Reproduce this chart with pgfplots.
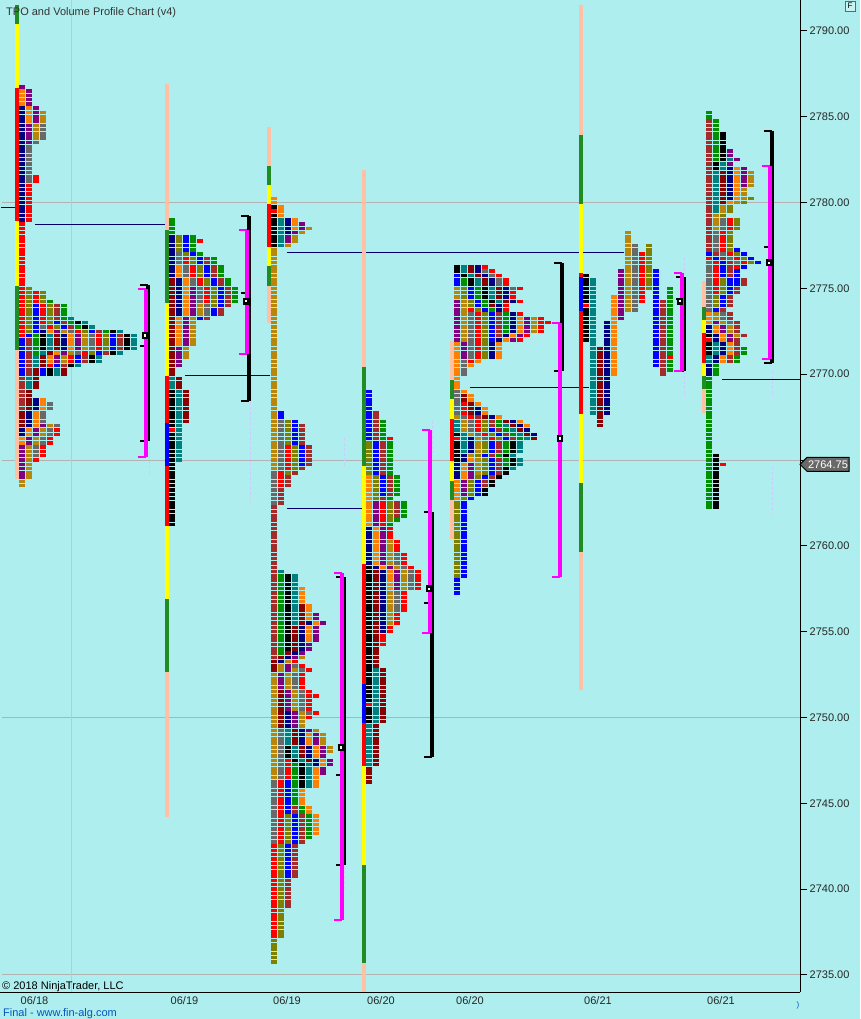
\documentclass[border=0pt]{standalone}
\usepackage{fontspec}
\setmainfont{Liberation Sans}
\usepackage{pgfplots}
\pgfplotsset{compat=1.18}

\definecolor{bg}{HTML}{AFEEEE}
\definecolor{cG}{HTML}{009000}
\definecolor{cL}{HTML}{808000}
\definecolor{cR}{HTML}{FF0000}
\definecolor{cB}{HTML}{0000FF}
\definecolor{cW}{HTML}{A52A2A}
\definecolor{cT}{HTML}{008080}
\definecolor{cK}{HTML}{000000}
\definecolor{cD}{HTML}{8B0000}
\definecolor{cN}{HTML}{000080}
\definecolor{cO}{HTML}{FF8000}
\definecolor{cP}{HTML}{800080}
\definecolor{cY}{HTML}{B8860B}
\definecolor{cS}{HTML}{696969}
\definecolor{peach}{HTML}{FFC0A3}
\definecolor{fgreen}{HTML}{228B22}
\definecolor{yell}{HTML}{FFFF00}
\definecolor{vamag}{HTML}{FF00FF}

\pgfdeclareplotmark{tpo}{\pgfpathrectangle{\pgfpoint{-3pt}{-1.75pt}}{\pgfpoint{6pt}{3.5pt}}\pgfusepathqfill}

% one list of block positions per colour
\def\LG{}\def\LL{}\def\LR{}\def\LB{}\def\LW{}\def\LT{}\def\LK{}\def\LD{}\def\LN{}\def\LO{}\def\LP{}\def\LY{}\def\LS{}
\newcount\rr \newcount\cc \newcount\profno

% \prof{left x}{colour/low/high, ...}: periods in time order, each row fills to the right
\newcommand\prof[2]{%
  \global\advance\profno by 1
  \foreach \cl/\pl/\ph in {#2}{%
    \pgfmathtruncatemacro\a{(\pl-2730)*4+0.5}%
    \pgfmathtruncatemacro\b{(\ph-2730)*4+0.5}%
    \rr=\a
    \loop\ifnum\rr>\b\else
      \ifcsname C\the\profno.\the\rr\endcsname
        \cc=\csname C\the\profno.\the\rr\endcsname\relax
      \else \cc=0 \fi
      \expandafter\xdef\csname L\cl\endcsname{\csname L\cl\endcsname
        (\the\numexpr#1+3+7*\cc\relax,\fpeval{2730+\the\rr/4})}%
      \expandafter\xdef\csname C\the\profno.\the\rr\endcsname{\the\numexpr\cc+1\relax}%
      \advance\rr by 1
    \repeat
  }}

\prof{19}{N/2779/2785.5,O/2784.75/2786.5,P/2783.5/2786.75,Y/2783.75/2785.25,S/2781.25/2784.5,
R/2772.25/2781.5,L/2772.5/2775,B/2770/2774,W/2768/2772,G/2771.25/2772.25,K/2771.5/2772.25,
T/2770.5/2772.25,D/2770/2772.25,N/2771.5/2772.5,O/2770.75/2772.5,P/2770.75/2772.5,Y/2770.75/2772.5,
S/2771.25/2772.75,R/2770.5/2774.75,L/2771.25/2774.75,B/2770/2773,W/2770.5/2774,G/2772.5/2774.25,
K/2770/2773,T/2769.25/2773.25,D/2767/2770.25,N/2766.5/2768.5,O/2766/2768.5,P/2764/2767,
Y/2763.5/2767,S/2765.25/2768.25,R/2765/2766.75}

\prof{169}{D/2770/2775.5,N/2773.5/2778,O/2771.75/2776.25,P/2770.5/2775,Y/2771/2774,S/2773.5/2777,
R/2774.25/2776.75,L/2774/2778,B/2773.25/2778,W/2773.25/2776.75,G/2774.25/2779,R/2777.75/2777.75,
R/2766.75/2766.75,K/2767/2769,K/2761.25/2766.5,T/2765/2769.75,D/2767.25/2769.75}

\prof{271}{R/2779.5/2779.5,K/2779.75/2779.75,K/2777.5/2779.25,T/2777.5/2779,N/2778.25/2779,
O/2778.5/2780.25,P/2777.75/2778.75,Y/2764.5/2778.5,S/2762.5/2767.25,R/2763.5/2765.75,
L/2764.25/2767.25,B/2764.75/2767.75,W/2753.5/2767,G/2753.75/2758.25,K/2754/2758.25,
T/2755.5/2758.5,D/2752.75/2756.5,N/2753.25/2755.5,O/2754.5/2757.5,P/2753.5/2756,
Y/2746.5/2753.5,S/2742.75/2749.25,R/2737.25/2747.5,L/2735.75/2744.25,B/2740.75/2746.25,
W/2739/2744.75,G/2743/2747.25,K/2746/2748.25,T/2746/2749.25,D/2747.5/2751.5,N/2747.25/2750.25,
O/2743.25/2749,P/2746.75/2753,Y/2748/2752.75,S/2750.25/2753,R/2750/2753.25,R/2751.25/2751.25}

\prof{366}{R/2750.75/2750.75,K/2751/2758.75,K/2749.75/2750.5,T/2747.25/2752.75,D/2746.25/2758.5,
N/2755/2761,O/2757.5/2764,P/2757.5/2762.5,Y/2755.5/2760.25,S/2756.25/2759.5,R/2754.25/2762.5,
L/2761.5/2766,B/2763/2769,W/2761.75/2767.75,G/2761.25/2767.25,R/2766.25/2766.25}

\prof{454}{R/2766.25/2766.25,K/2766.5/2766.5,K/2765/2766,T/2765.5/2767.25,N/2764/2766.25,
O/2762.75/2765,O/2769.25/2771.75,P/2763/2764.75,P/2771/2774.25,Y/2764.25/2767.5,Y/2772/2775,
S/2766.25/2769,S/2770/2773.5,R/2766.25/2768.25,R/2770.75/2773.75,L/2758.25/2767.25,L/2771/2775,
B/2757.25/2766.75,B/2772/2775.75,W/2763.5/2767.5,W/2772.25/2773.5,G/2764.75/2767.25,G/2772.5/2775.5,
K/2763/2766,K/2774.25/2776.25,T/2764.5/2767,T/2774.25/2776.25,D/2766.25/2768.75,D/2774/2776.25,
N/2766.5/2768,N/2771/2776.25,O/2767/2769,O/2770.5/2773.25,P/2772/2773.25,Y/2772.5/2773.25,
S/2775/2776,R/2772/2776.25,R/2773/2773}

% this session has one column for each period
\prof{583}{K/2772/2775.75}\prof{590}{T/2767.75/2775.5}\prof{597}{D/2767/2771.5}
\prof{604}{N/2767.75/2773}\prof{611}{O/2770/2774.5}\prof{618}{P/2773.25/2776}
\prof{625}{Y/2773.75/2778.25}\prof{632}{S/2773.75/2777.5}\prof{639}{R/2774.25/2777}
\prof{646}{L/2775/2777.5}\prof{653}{B/2770.5/2776}\prof{660}{W/2770/2774.25}
\prof{667}{G/2770.25/2775}\prof{583}{R/2774/2774}\prof{667}{R/2771/2771}

\prof{706}{R/2772/2772,K/2772.25/2772.25,K/2771.25/2771.75,T/2770.75/2771.75,N/2770/2772.75,
O/2770.75/2773.5,P/2772/2773,Y/2772.25/2773.5,S/2773/2776.5,R/2774.75/2776.75,L/2774/2775.5,
B/2773.75/2777,W/2775.75/2784.75,W/2770.75/2774,G/2762.25/2771.5,G/2782.5/2785.25,
K/2762.25/2765.25,K/2782/2784,T/2779.5/2782.5,D/2780/2781.75,N/2780.25/2782,O/2780/2782,
P/2781/2783,Y/2778.5/2781.75,S/2776.5/2779,R/2776.25/2779,L/2776.5/2780.25,B/2775.25/2777.25,
W/2774.25/2775.5,R/2764.75/2764.75}

\newcommand\drawcol[1]{\edef\tmp{\noexpand\addplot[only marks,mark=tpo,color=c#1]
  coordinates {\csname L#1\endcsname};}\tmp}
\newcommand\seg[4]{\addplot[line width=4pt,color=#1,line cap=butt] coordinates {(#2,#3)(#2,#4)};}
% value area bracket: colour, bar x, hook x, top, bottom
\newcommand\brk[5]{%
  \addplot[line width=4pt,color=#1,line cap=butt] coordinates {(#2,#4)(#2,#5)};
  \addplot[line width=2pt,color=#1,line cap=butt] coordinates {(#3,#4)(#2,#4)};
  \addplot[line width=2pt,color=#1,line cap=butt] coordinates {(#3,#5)(#2,#5)};}
\newcommand\stub[3]{\addplot[line width=2pt,color=black,line cap=butt] coordinates {(#1,#3)(#2,#3)};}
\newcommand\naked[3]{\addplot[line width=1pt,color=cN!85!black] coordinates {(#1,#3)(#2,#3)};}

\begin{document}
\begin{tikzpicture}
\fill[bg] (0pt,-27pt) rectangle (860pt,992pt);
\useasboundingbox (0pt,-27pt) rectangle (860pt,992pt);
\begin{axis}[
  scale only axis, width=800pt, height=992pt,
  xmin=0, xmax=800, ymin=2734, ymax=2791.806,
  axis x line*=bottom, axis y line*=right,
  clip=false,
  axis line style={line width=1pt,-},
  xtick={34.5,184.5,287,381,470,598,721},
  xticklabels={06/18,06/19,06/19,06/20,06/20,06/21,06/21},
  ytick={2735,2740,2745,2750,2755,2760,2765,2770,2775,2780,2785,2790},
  yticklabels={2735.00,2740.00,2745.00,2750.00,2755.00,2760.00,,2770.00,2775.00,2780.00,2785.00,2790.00},
  tick align=outside,
  x tick style={draw=none},
  y tick style={black,line width=1pt},
  major tick length=7pt,
  tick label style={font=\fontsize{11}{13}\selectfont,text=black!85},
  x tick label style={inner sep=1pt,yshift=4pt},
  y tick label style={inner sep=1.5pt,xshift=1pt},
]
% grid lines
\addplot[line width=1pt,color=black!30] coordinates {(2,2780)(800,2780)};
\addplot[line width=1pt,color=black!30] coordinates {(2,2765)(800,2765)};
\addplot[line width=1pt,color=black!30] coordinates {(2,2750)(800,2750)};
\addplot[line width=1pt,color=black!30] coordinates {(2,2735)(800,2735)};
\addplot[line width=1pt,color=black!22] coordinates {(71,2734)(71,2791.8)};

% pale dashes near the brackets
\addplot[line width=1pt,color=blue!20,dash pattern=on 3pt off 2pt,unbounded coords=jump] coordinates {
  (149,2766.1)(149,2764.1) (nan,nan) (344.5,2746.6)(344.5,2739.9) (nan,nan) (344.5,2766.3)(344.5,2764.6)
  (nan,nan) (432.5,2767.3)(432.5,2765.4) (nan,nan) (684,2776.8)(684,2775.9) (nan,nan) (684,2770.2)(684,2768.7)
  (nan,nan) (772,2770.2)(772,2768.7) (nan,nan) (772,2764.6)(772,2761.9) (nan,nan) (250,2768.4)(250,2762.5)};

% naked point of control lines
\naked{1}{18}{2779.74}\naked{35}{168}{2778.72}\naked{185}{270}{2769.95}\naked{287}{624}{2777.1}
\naked{287}{366}{2762.2}\naked{470}{589}{2769.25}\naked{722}{800}{2769.7}

% session range bars
\seg{fgreen}{17}{2791.52}{2790.41}\seg{yell}{17}{2790.41}{2786.68}\seg{cR}{17}{2786.68}{2778.93}
\seg{yell}{17}{2778.93}{2775.14}\seg{fgreen}{17}{2775.14}{2771.41}\seg{peach}{17}{2771.41}{2763.89}

\seg{peach}{167}{2786.91}{2778.40}\seg{fgreen}{167}{2778.40}{2774.15}\seg{yell}{167}{2774.15}{2769.90}
\seg{cR}{167}{2769.90}{2767.16}\seg{cB}{167}{2767.16}{2764.65}\seg{cR}{167}{2764.65}{2761.15}
\seg{yell}{167}{2761.15}{2756.90}\seg{fgreen}{167}{2756.90}{2752.65}\seg{peach}{167}{2752.65}{2744.20}

\seg{peach}{269}{2784.41}{2782.13}\seg{fgreen}{269}{2782.13}{2781.03}\seg{yell}{269}{2781.03}{2779.92}
\seg{cR}{269}{2779.92}{2777.41}\seg{yell}{269}{2777.41}{2776.31}\seg{fgreen}{269}{2776.31}{2775.14}
\seg{peach}{269}{2775.14}{2772.98}

\seg{peach}{364}{2781.90}{2770.42}\seg{fgreen}{364}{2770.42}{2764.65}\seg{yell}{364}{2764.65}{2758.94}
\seg{cR}{364}{2758.94}{2751.95}\seg{cB}{364}{2751.95}{2749.67}\seg{cR}{364}{2749.67}{2747.17}
\seg{yell}{364}{2747.17}{2741.40}\seg{fgreen}{364}{2741.40}{2735.69}\seg{peach}{364}{2735.69}{2734}

\seg{peach}{452}{2771.93}{2769.66}\seg{fgreen}{452}{2769.66}{2768.55}\seg{yell}{452}{2768.55}{2767.39}
\seg{cR}{452}{2767.39}{2764.94}\seg{yell}{452}{2764.94}{2763.78}\seg{fgreen}{452}{2763.78}{2762.67}
\seg{peach}{452}{2762.67}{2760.40}

\seg{peach}{581}{2791.52}{2783.94}\seg{fgreen}{581}{2783.94}{2779.92}\seg{yell}{581}{2779.92}{2775.90}
\seg{cR}{581}{2775.90}{2775.66}\seg{cB}{581}{2775.66}{2773.68}\seg{cR}{581}{2773.68}{2767.68}
\seg{yell}{581}{2767.68}{2763.66}\seg{fgreen}{581}{2763.66}{2759.64}\seg{peach}{581}{2759.64}{2751.60}

\seg{peach}{704}{2775.43}{2773.92}\seg{fgreen}{704}{2773.92}{2773.16}\seg{yell}{704}{2773.16}{2772.40}
\seg{cR}{704}{2772.40}{2770.65}\seg{yell}{704}{2770.65}{2769.90}\seg{fgreen}{704}{2769.90}{2769.14}
\seg{peach}{704}{2769.14}{2767.74}

% profile blocks
\drawcol{G}\drawcol{L}\drawcol{B}\drawcol{W}\drawcol{T}\drawcol{K}\drawcol{D}
\drawcol{N}\drawcol{O}\drawcol{P}\drawcol{Y}\drawcol{S}\drawcol{R}

% black then magenta brackets
\brk{black}{148}{140}{2775.20}{2766.11}\brk{black}{249}{241}{2779.22}{2768.44}
\brk{black}{344}{336}{2758.18}{2741.40}\brk{black}{432}{424}{2761.97}{2747.69}
\brk{black}{562}{554}{2776.48}{2770.19}\brk{black}{684}{676}{2775.66}{2770.19}
\brk{black}{772}{764}{2784.17}{2770.65}
\stub{140}{146}{2771.64}\stub{241}{247}{2774.73}\stub{336}{342}{2746.64}\stub{424}{430}{2756.67}
\stub{676}{682}{2774.38}\stub{764}{770}{2777.41}
\brk{vamag}{146}{138}{2774.97}{2765.18}\brk{vamag}{247}{239}{2778.40}{2771.18}
\brk{vamag}{342}{334}{2758.42}{2738.19}\brk{vamag}{430}{422}{2766.75}{2754.92}
\brk{vamag}{560}{552}{2772.98}{2758.18}\brk{vamag}{682}{674}{2775.90}{2770.19}
\brk{vamag}{770}{762}{2782.13}{2770.89}

% point of control markers
\addplot[only marks,mark=square*,mark size=2.2pt,mark options={fill=white,draw=black,line width=2.2pt}]
  coordinates {(145,2772.25)(246,2774.25)(341,2748.25)(429,2757.5)(560,2766.25)(680,2774.25)(769,2776.5)};

% last price tag
\draw[fill=cS,draw=black,line width=1pt] (axis cs:800,2764.75) -- ++(7pt,7pt) -- ++(42pt,0pt) -- ++(0pt,-14pt) -- ++(-42pt,0pt) -- cycle;
\node[anchor=center,text=white,font=\fontsize{11}{13}\selectfont,inner sep=0pt] at ([xshift=28pt]axis cs:800,2764.75) {2764.75};

\node[anchor=base west,inner sep=0pt,font=\fontsize{11}{13}\selectfont,text=black!80] at ([yshift=-16pt]axis cs:6,2791.806) {TPO and Volume Profile Chart (v4)};
\node[anchor=base west,inner sep=0pt,font=\fontsize{11}{13}\selectfont,text=black] at ([yshift=2pt]axis cs:2,2734) {© 2018 NinjaTrader, LLC};
\node[anchor=base west,inner sep=0pt,font=\fontsize{11}{13}\selectfont,text=blue!55!cyan!75!black] at ([yshift=-24pt]axis cs:3,2734) {Final - www.fin-alg.com};
\node[anchor=center,inner sep=0pt,font=\fontsize{8}{9}\selectfont,text=blue!55!cyan!75!black] at ([yshift=-13pt]axis cs:798,2734) {)};
\node[draw=black!60,fill=bg!70!white,inner sep=1.5pt,font=\fontsize{8}{9}\selectfont,minimum size=10pt] at ([xshift=50pt,yshift=-6pt]axis cs:800,2791.806) {F};
\end{axis}
\end{tikzpicture}
\end{document}
